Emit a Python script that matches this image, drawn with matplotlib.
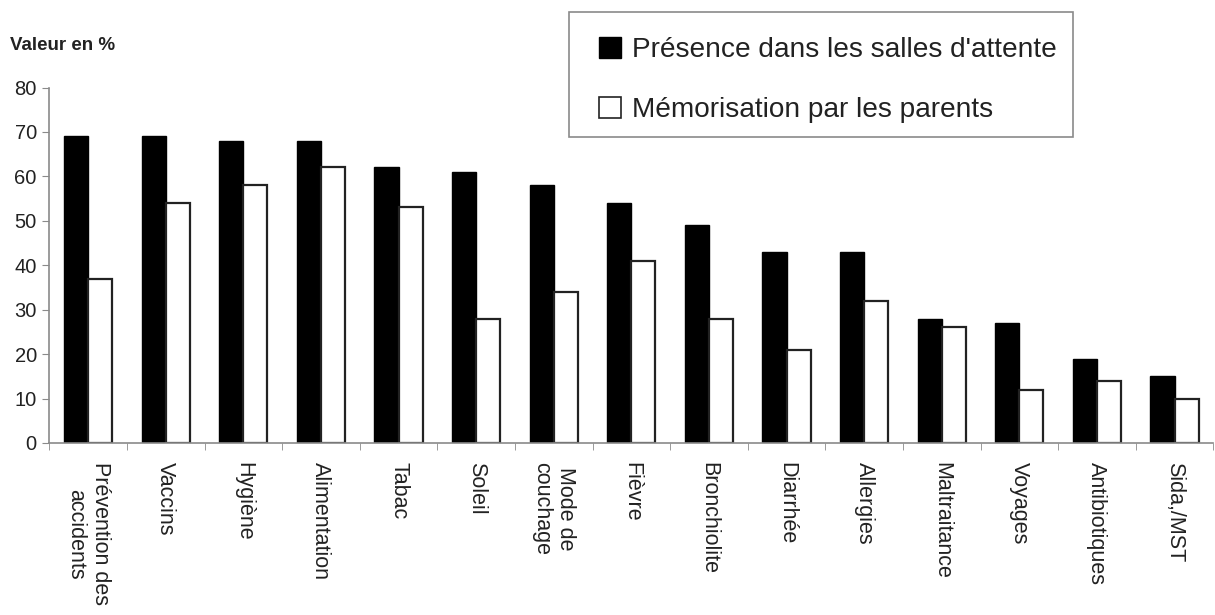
import matplotlib.pyplot as plt
import numpy as np
from matplotlib.patches import Patch, Rectangle

plt.rcParams["font.family"] = ["Liberation Sans", "DejaVu Sans"]

categories = ["Prévention des\naccidents", "Vaccins", "Hygiène", "Alimentation", "Tabac",
              "Soleil", "Mode de\ncouchage", "Fièvre", "Bronchiolite", "Diarrhée",
              "Allergies", "Maltraitance", "Voyages", "Antibiotiques", "Sida,/MST"]
presence = [69, 69, 68, 68, 62, 61, 58, 54, 49, 43, 43, 28, 27, 19, 15]
memorisation = [37, 54, 58, 62, 53, 28, 34, 41, 28, 21, 32, 26, 12, 14, 10]
series_labels = ["Présence dans les salles d'attente", "Mémorisation par les parents"]
y_ticks = [0, 10, 20, 30, 40, 50, 60, 70, 80]

text_col = "#222222"
axis_col = "#8a8a8a"

fig = plt.figure(figsize=(12.15, 6.15), dpi=100)
ax = fig.add_axes([0.0406, 0.2797, 0.958, 0.578])

x = np.arange(len(categories))
w = 0.31
ax.bar(x - w / 2, presence, w, color="black", edgecolor="black", linewidth=1)
ax.bar(x + w / 2, memorisation, w, color="white", edgecolor="#222222", linewidth=1.6)

ax.set_xlim(-0.5, len(categories) - 0.5)
ax.set_ylim(0, 80)
ax.set_yticks(y_ticks)
ax.set_yticklabels([str(v) for v in y_ticks], fontsize=14.5, color=text_col)

ax.set_xticks(x)
ax.set_xticklabels(categories, rotation=270, ha="center", va="top",
                   multialignment="center", fontsize=15.5, color=text_col)
ax.set_xticks(np.arange(len(categories) + 1) - 0.5, minor=True)
ax.tick_params(axis="x", which="major", length=0, pad=14)
ax.tick_params(axis="x", which="minor", length=5, color=axis_col, direction="out")
ax.tick_params(axis="y", length=5, color=axis_col, pad=4)

for side in ["top", "right"]:
    ax.spines[side].set_visible(False)
for side in ["left", "bottom"]:
    ax.spines[side].set_color(axis_col)
    ax.spines[side].set_linewidth(1.2)

fig.text(10 / 1215, 1 - 45 / 615, "Valeur en %", fontsize=13.5, fontweight="bold",
         color=text_col, va="center", ha="left")

# legend box drawn separately so its size matches the reference
fig.patches.append(Rectangle((569 / 1215, 1 - 137 / 615), 504 / 1215, 125 / 615,
                             transform=fig.transFigure, facecolor="white",
                             edgecolor=axis_col, linewidth=1.2, zorder=0))

handles = [Patch(facecolor="black", edgecolor="black"),
           Patch(facecolor="white", edgecolor="#222222", linewidth=1.2)]
leg = fig.legend(handles, series_labels, loc="upper left",
                 bbox_to_anchor=(572 / 1215, 1 - 10 / 615), fontsize=20.2,
                 frameon=False, handlelength=0.78, handleheight=0.78,
                 handletextpad=0.4, labelspacing=1.2, borderpad=0.95,
                 borderaxespad=0)
for t in leg.get_texts():
    t.set_color(text_col)

fig.savefig("out.png", dpi=100)
